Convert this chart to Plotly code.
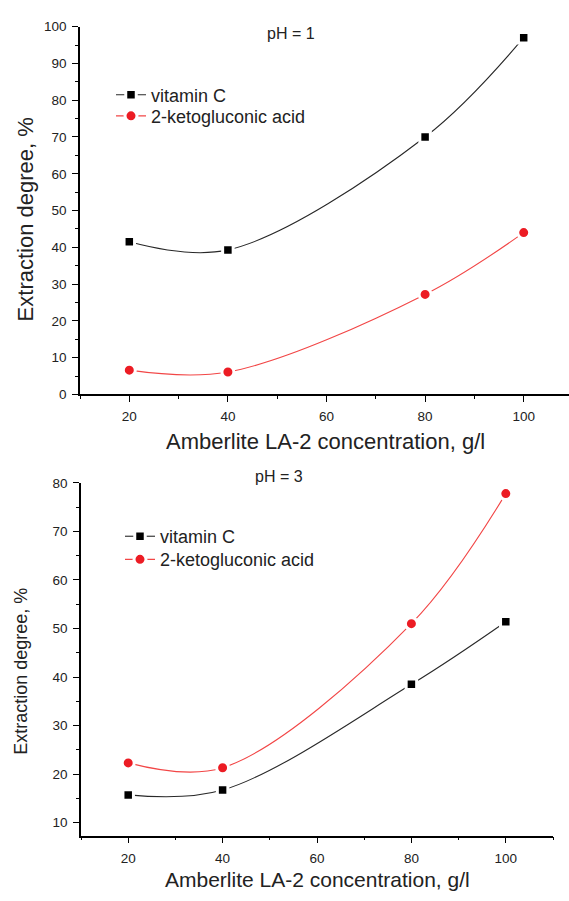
import plotly.graph_objects as go

W, H = 569, 901

# ---------------- data ----------------
conc = [20, 40, 80, 100]
ph1_vitc = [41.5, 39.3, 70.0, 97.0]
ph1_keto = [6.6, 6.1, 27.2, 44.0]
ph3_vitc = [15.7, 16.7, 38.5, 51.4]
ph3_keto = [22.3, 21.3, 51.0, 77.8]

series_names = ["vitamin C", "2-ketogluconic acid"]
x_title = "Amberlite LA-2 concentration, g/l"
y_title = "Extraction degree, %"
panel_titles = ["pH = 1", "pH = 3"]

FONT = "Liberation Sans, Arial, Helvetica, sans-serif"
BLACK_LINE = "rgb(40,40,40)"
RED_LINE = "rgb(242,70,70)"
BLACK_MK = "rgb(0,0,0)"
RED_MK = "rgb(236,28,36)"


def px(x):
    return x / W


def py(y):
    return 1 - y / H


fig = go.Figure()


def add_series(xs, ys, name, color_line, color_mk, symbol, size, xa, ya, legend):
    fig.add_trace(go.Scatter(
        x=xs, y=ys, name=name, mode="lines+markers",
        line=dict(color=color_line, width=1.1, shape="spline", smoothing=1.0),
        marker=dict(symbol=symbol, size=size, color=color_mk,
                    line=dict(color="white", width=3)),
        xaxis=xa, yaxis=ya, legend=legend,
    ))


add_series(conc, ph1_vitc, series_names[0], BLACK_LINE, BLACK_MK, "square", 10.5, "x", "y", "legend")
add_series(conc, ph1_keto, series_names[1], RED_LINE, RED_MK, "circle", 12, "x", "y", "legend2")
add_series(conc, ph3_vitc, series_names[0], BLACK_LINE, BLACK_MK, "square", 10.5, "x2", "y2", "legend3")
add_series(conc, ph3_keto, series_names[1], RED_LINE, RED_MK, "circle", 12, "x2", "y2", "legend4")

axis_common = dict(
    showline=True, linecolor="black", linewidth=1.6,
    ticks="outside", ticklen=6, tickwidth=1.4, tickcolor="black",
    showgrid=False, zeroline=False, mirror=False,
    tickfont=dict(family=FONT, size=13.5, color="#222"),
    ticklabelstandoff=3,
)


def legend_box(xp, yp):
    return dict(x=px(xp), y=py(yp), xanchor="left", yanchor="middle",
                bgcolor="rgba(0,0,0,0)", borderwidth=0,
                font=dict(family=FONT, size=18, color="#222"))


fig.update_layout(
    width=W, height=H,
    margin=dict(l=0, r=0, t=0, b=0),
    paper_bgcolor="white", plot_bgcolor="white",
    font=dict(family=FONT, color="#222"),
    xaxis=dict(domain=[px(80), 1.0], range=[10, 10 + (569 - 80) / 4.93],
               anchor="y", tickvals=[20, 40, 60, 80, 100],
               minor=dict(tickvals=[10, 30, 50, 70, 90], ticklen=3, tickwidth=1.2,
                          tickcolor="black", ticks="outside"),
               **axis_common),
    yaxis=dict(domain=[py(394), py(20)], range=[0, 100], anchor="x",
               dtick=10, tick0=0,
               minor=dict(dtick=5, ticklen=3, tickwidth=1.2, tickcolor="black",
                          ticks="outside"),
               **axis_common),
    xaxis2=dict(domain=[px(81), px(553)], range=[10, 110], anchor="y2",
                tickvals=[20, 40, 60, 80, 100],
                minor=dict(tickvals=[10, 30, 50, 70, 90, 110], ticklen=3, tickwidth=1.2,
                           tickcolor="black", ticks="outside"),
                **axis_common),
    yaxis2=dict(domain=[py(842.7), py(484)], range=[7.3, 80], anchor="x2",
                dtick=10, tick0=0,
                minor=dict(dtick=5, ticklen=3, tickwidth=1.2, tickcolor="black",
                           ticks="outside"),
                **axis_common),
    legend=legend_box(111, 89.5),
    legend2=legend_box(111, 111),
    legend3=legend_box(120, 538.5),
    legend4=legend_box(120, 562),
    showlegend=True,
)

annots = [
    dict(text=panel_titles[0], x=px(291), y=py(27), size=16),
    dict(text=panel_titles[1], x=px(279), y=py(477), size=16),
    dict(text=x_title, x=px(325), y=py(442), size=22),
    dict(text=x_title, x=px(317), y=py(887), size=21),
]
for a in annots:
    fig.add_annotation(text=a["text"], x=a["x"], y=a["y"], xref="paper", yref="paper",
                       xanchor="center", yanchor="middle", showarrow=False,
                       font=dict(family=FONT, size=a["size"], color="#222"))

fig.add_annotation(text=y_title, x=px(25), y=py(216), xref="paper", yref="paper",
                   xanchor="center", yanchor="middle", showarrow=False, textangle=-90,
                   font=dict(family=FONT, size=22, color="#222"))
fig.add_annotation(text=y_title, x=px(21), y=py(676), xref="paper", yref="paper",
                   xanchor="center", yanchor="middle", showarrow=False, textangle=-90,
                   font=dict(family=FONT, size=18, color="#222"))

fig.write_html("out.html")
